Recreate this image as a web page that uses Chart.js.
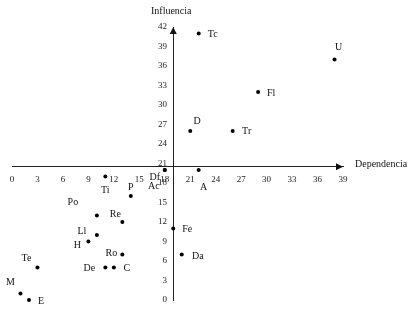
<!DOCTYPE html>
<html>
<head>
<meta charset="utf-8">
<script src="https://cdn.jsdelivr.net/npm/chart.js@4"></script>
<style>
  html, body { margin: 0; padding: 0; background: #fff; }
  #wrap { width: 412px; height: 310px; }
</style>
</head>
<body>
<div id="wrap"><canvas id="chart"></canvas></div>
<script>
const names = ["Tc", "D", "U", "Fl", "Tr", "Ti", "Df", "Ac", "A", "P", "Po", "Re", "Ll", "H", "Ro", "De", "C", "Te", "M", "E", "Fe", "Da"];
const dependencia = [22, 21, 38, 29, 26, 11, 18, 18, 22, 14, 10, 13, 10, 9, 13, 11, 12, 3, 1, 2, 19, 20];
const influencia = [41, 26, 37, 32, 26, 19, 20, 20, 20, 16, 13, 12, 10, 9, 7, 5, 5, 5, 1, 0, 11, 7];
const xTicks = [0, 3, 6, 9, 12, 15, 18, 21, 24, 27, 30, 33, 36, 39];
const yTicks = [0, 3, 6, 9, 12, 15, 18, 21, 24, 27, 30, 33, 36, 39, 42];
const crossX = 19;   // where the vertical axis sits
const crossY = 20.5; // where the horizontal axis sits

// label placement around each dot (px, text centre)
const labelOffset = {
  Tc: [14, 1], D: [7, -10], U: [4, -12], Fl: [13, 1], Tr: [14, 0],
  Ti: [0, 14], Df: [-10, 7], Ac: [-11, 16], A: [5, 17], P: [0, -9],
  Po: [-24, -13], Re: [-7, -8], Ll: [-15, -4], H: [-11, 4], Ro: [-11, -1],
  De: [-16, 1], C: [13, 1], Te: [-11, -9], M: [-10, -11], E: [12, 1],
  Fe: [14, 1], Da: [16, 2]
};

const serif = "'Liberation Serif', 'DejaVu Serif', serif";

const extras = {
  id: "extras",
  afterDraw(chart) {
    const { ctx, scales: { x, y } } = chart;
    const x0 = x.getPixelForValue(crossX);
    const y0 = y.getPixelForValue(crossY);
    ctx.save();
    ctx.fillStyle = "#111";
    // arrow heads
    const top = y.getPixelForValue(42);
    ctx.beginPath();
    ctx.moveTo(x0, top);
    ctx.lineTo(x0 - 3.5, top + 7);
    ctx.lineTo(x0 + 3.5, top + 7);
    ctx.closePath();
    ctx.fill();
    const right = x.getPixelForValue(39);
    ctx.beginPath();
    ctx.moveTo(right, y0);
    ctx.lineTo(right - 7, y0 - 3.5);
    ctx.lineTo(right - 7, y0 + 3.5);
    ctx.closePath();
    ctx.fill();

    // axis titles
    ctx.font = "10px " + serif;
    ctx.textBaseline = "middle";
    ctx.textAlign = "center";
    ctx.fillText("Influencia", x0 - 2, top - 16);
    ctx.textAlign = "left";
    ctx.fillText("Dependencia", right + 12, y0 - 2);

    // point labels
    ctx.textAlign = "center";
    names.forEach((n, i) => {
      const px = x.getPixelForValue(dependencia[i]);
      const py = y.getPixelForValue(influencia[i]);
      const off = labelOffset[n] || [8, 0];
      ctx.fillText(n, px + off[0], py + off[1]);
    });
    ctx.restore();
  }
};

new Chart(document.getElementById("chart"), {
  type: "scatter",
  data: {
    datasets: [{
      data: names.map((n, i) => ({ x: dependencia[i], y: influencia[i] })),
      backgroundColor: "#000",
      borderWidth: 0,
      pointRadius: 2,
      pointHoverRadius: 2,
      clip: false
    }]
  },
  options: {
    responsive: true,
    maintainAspectRatio: false,
    animation: false,
    layout: { padding: { left: 12, right: 69, top: 27, bottom: 10 } },
    plugins: { legend: { display: false }, tooltip: { enabled: false } },
    scales: {
      x: {
        type: "linear",
        min: 0,
        max: 39,
        position: { y: crossY },
        afterBuildTicks: s => { s.ticks = xTicks.map(v => ({ value: v })); },
        afterFit: s => { s.height = 0; },
        grid: { color: "transparent", drawTicks: false },
        border: { color: "#222", width: 1 },
        ticks: { autoSkip: false, maxRotation: 0, padding: 7, color: "#222", font: { family: serif, size: 9 } }
      },
      y: {
        type: "linear",
        min: 0,
        max: 42,
        position: { x: crossX },
        afterBuildTicks: s => { s.ticks = yTicks.map(v => ({ value: v })); },
        afterFit: s => { s.width = 0; },
        grid: { color: "transparent", drawTicks: false },
        border: { color: "#222", width: 1 },
        // labels sit right against a centred axis, so pad them with spaces
        ticks: {
          autoSkip: false,
          color: "#222",
          font: { family: serif, size: 9 },
          callback: v => v + "\u2002\u2009"
        }
      }
    }
  },
  plugins: [extras]
});
</script>
</body>
</html>
